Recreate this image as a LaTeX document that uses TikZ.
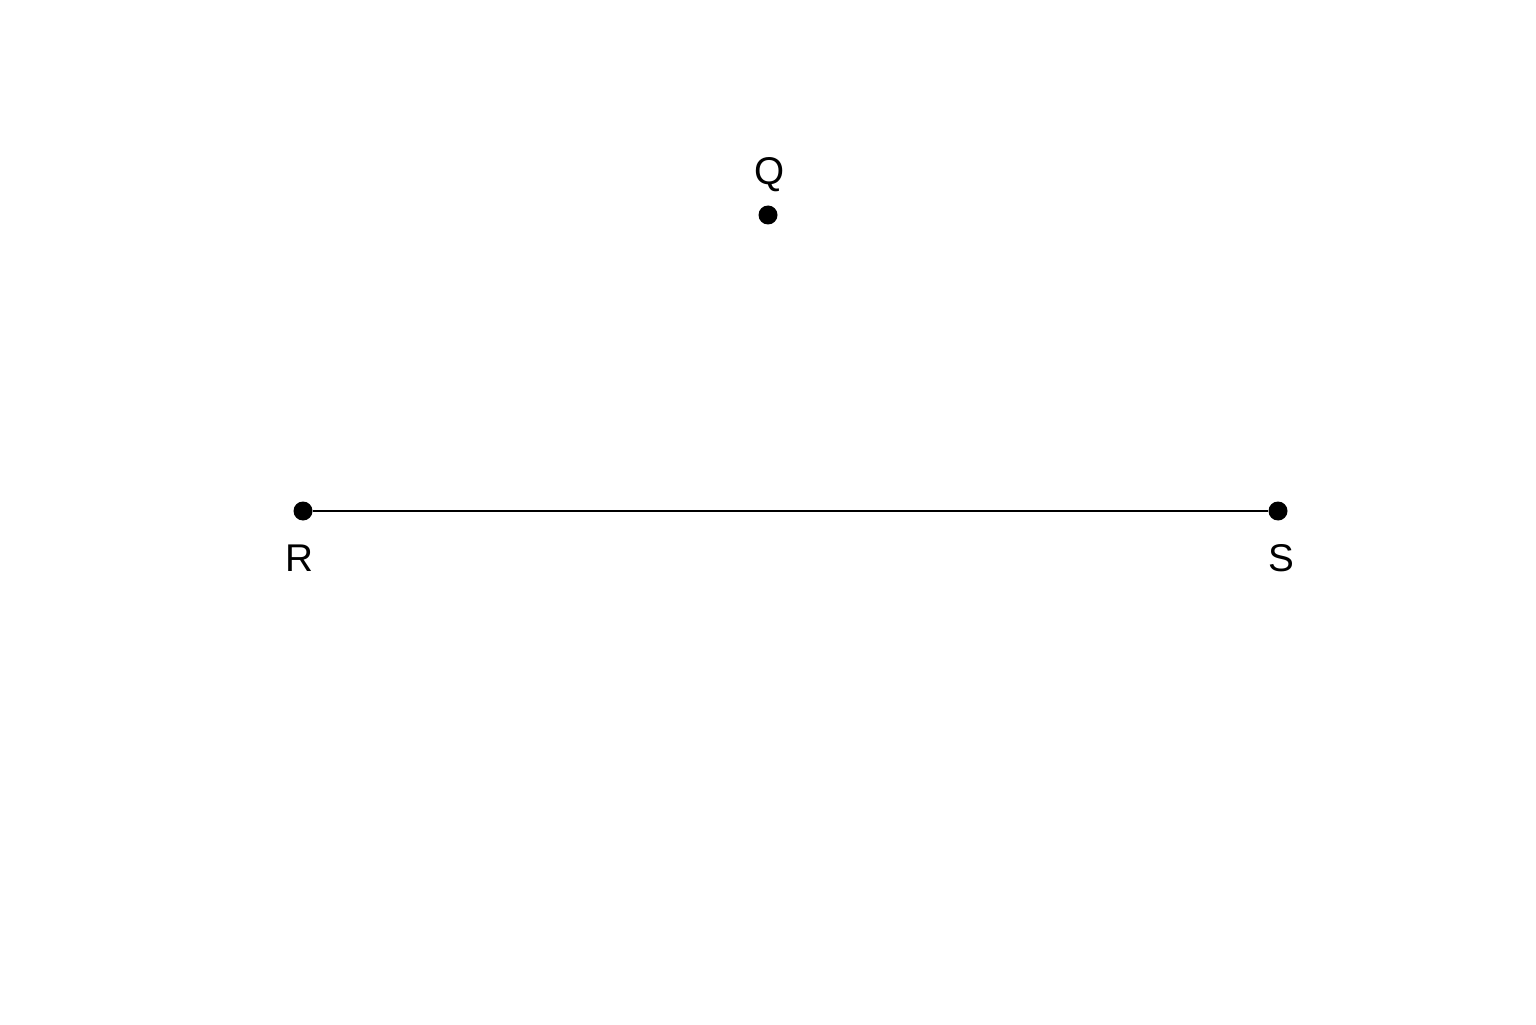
\documentclass[tikz,border=0pt]{standalone}
\usepackage{fontspec}
\setmainfont{Liberation Sans}
\usetikzlibrary{positioning}

\begin{document}
\begin{tikzpicture}[
		point/.style={circle, fill=black, minimum size=0.19cm, inner sep=0pt},
		lbl/.style={font=\fontsize{11}{13}\selectfont, anchor=center},
		]
		\useasboundingbox (0,0) rectangle (15.36,10.24);

		% points
		\node[point] (Q) at (7.68, 8.09) {};
		\node[point] (R) at (3.03, 5.13) {};
		\node[point] (S) at (12.78, 5.13) {};

		% labels
		\node[above=0.40cm of Q.center, xshift=0.02cm, lbl] (LQ) {Q};
		\node[below=0.47cm of R.center, xshift=-0.04cm, lbl] (LR) {R};
		\node[below=0.47cm of S.center, xshift=0.03cm, lbl] (LS) {S};

		% segment
		\draw[line width=0.8pt] (R) -- (S);
	\end{tikzpicture}
\end{document}
